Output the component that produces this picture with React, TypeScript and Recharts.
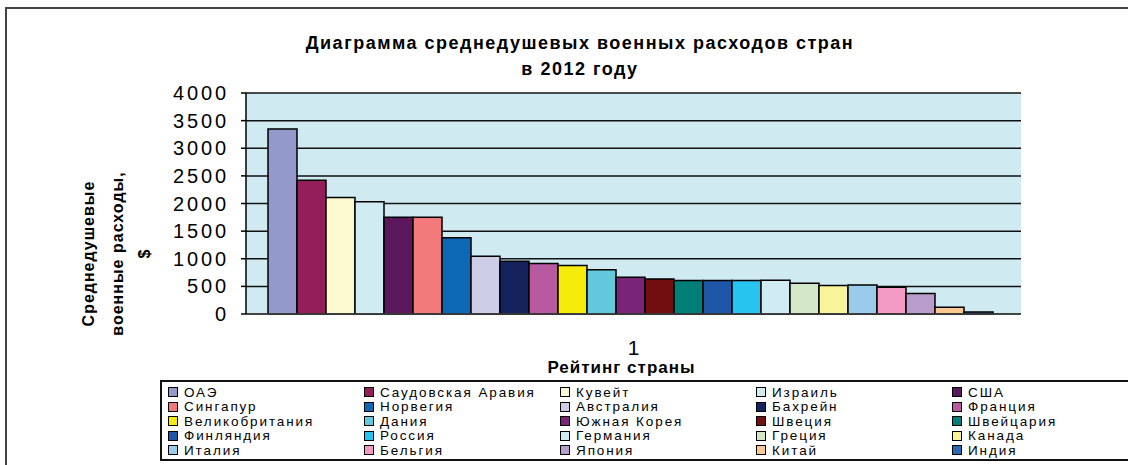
import { BarChart, Bar, XAxis, YAxis, CartesianGrid, Legend } from 'recharts';

const countries = [
  'ОАЭ', 'Саудовская Аравия', 'Кувейт', 'Израиль', 'США',
  'Сингапур', 'Норвегия', 'Австралия', 'Бахрейн', 'Франция',
  'Великобритания', 'Дания', 'Южная Корея', 'Швеция', 'Швейцария',
  'Финляндия', 'Россия', 'Германия', 'Греция', 'Канада',
  'Италия', 'Бельгия', 'Япония', 'Китай', 'Индия',
];

const spending = [
  3350, 2420, 2110, 2030, 1750,
  1750, 1380, 1045, 955, 915,
  880, 800, 665, 635, 605,
  605, 605, 610, 555, 515,
  525, 485, 370, 120, 35,
];

const colors = [
  '#9499cc', '#941e5a', '#fcf8cf', '#d0ecf2', '#5c185c',
  '#f27a7a', '#0c68b4', '#cdcde8', '#14225e', '#b85aa0',
  '#f6ec0a', '#62c8dc', '#7a2478', '#720e10', '#007e78',
  '#1e56a8', '#28c4f0', '#d0ecf2', '#d2e8c6', '#f8f49a',
  '#9acbeb', '#f29ac4', '#b89ccc', '#fac890', '#2a6ab4',
];

const yTicks = [0, 500, 1000, 1500, 2000, 2500, 3000, 3500, 4000];

const font = "'Liberation Sans', Arial, sans-serif";

const row: Record<string, string | number> = { name: '1' };
countries.forEach((c, i) => {
  row[c] = spending[i];
});
const data = [row];

const LegendBox = () => (
  <div
    style={{
      boxSizing: 'border-box',
      width: '100%',
      height: '100%',
      border: '2px solid #111',
      background: 'white',
      padding: '3px 0 0 6px',
      display: 'grid',
      gridTemplateColumns: 'repeat(5, 196px)',
      gridAutoRows: '14.5px',
      fontFamily: font,
      fontSize: 13.5,
      letterSpacing: 1.9,
      color: '#000',
    }}
  >
    {countries.map((c, i) => (
      <div key={c} style={{ display: 'flex', alignItems: 'center', whiteSpace: 'nowrap' }}>
        <span
          style={{
            display: 'inline-block',
            width: 8,
            height: 8,
            background: colors[i],
            border: '1.5px solid #000',
            marginRight: 6,
          }}
        />
        {c}
      </div>
    ))}
  </div>
);

const YTitle = (props: any) => {
  const { viewBox } = props;
  const cy = viewBox.y + viewBox.height / 2 + 50;
  const lines = ['Среднедушевые', 'военные расходы,', '$'];
  const xs = [94, 123, 150];
  return (
    <g>
      {lines.map((l, i) => (
        <text
          key={l}
          x={xs[i]}
          y={cy}
          transform={`rotate(-90 ${xs[i]} ${cy})`}
          textAnchor="middle"
          fontFamily={font}
          fontSize={16}
          fontWeight="bold"
          letterSpacing={1}
          fill="#000"
        >
          {l}
        </text>
      ))}
    </g>
  );
};

const XTitle = (props: any) => {
  const { viewBox } = props;
  const cx = viewBox.x + viewBox.width / 2 - 12;
  return (
    <text
      x={cx}
      y={373}
      textAnchor="middle"
      fontFamily={font}
      fontSize={17}
      fontWeight="bold"
      letterSpacing={1}
      fill="#000"
    >
      Рейтинг страны
    </text>
  );
};

export default function App() {
  return (
    <div
      style={{
        position: 'absolute',
        left: 0,
        top: 0,
        width: 1128,
        height: 465,
        overflow: 'hidden',
        background: 'white',
      }}
    >
      {/* outer frame, runs off the right and bottom edges */}
      <div
        style={{
          position: 'absolute',
          left: 5,
          top: 7,
          width: 1200,
          height: 600,
          borderTop: '2px solid #444',
          borderLeft: '2px solid #444',
        }}
      />
      <div
        style={{
          position: 'absolute',
          left: 0,
          width: 1160,
          top: 30,
          textAlign: 'center',
          fontFamily: font,
          fontWeight: 'bold',
          fontSize: 18,
          letterSpacing: 1.5,
          lineHeight: '26px',
          color: '#000',
        }}
      >
        Диаграмма среднедушевых военных расходов стран
        <br />в 2012 году
      </div>
      <div style={{ position: 'absolute', left: 0, top: 0 }}>
        <BarChart
          width={1128}
          height={465}
          data={data}
          margin={{ top: 93, right: 107, bottom: 111, left: 0 }}
          barGap={0}
          barCategoryGap={22}
        >
          <CartesianGrid vertical={false} stroke="#111" strokeWidth={1.5} fill="#cfebf1" />
          <XAxis
            dataKey="name"
            height={40}
            tickLine={false}
            tickSize={6}
            tickMargin={20}
            axisLine={{ stroke: '#444', strokeWidth: 1.5 }}
            tick={{ fontFamily: font, fontSize: 21, fill: '#000' }}
            label={<XTitle />}
          />
          <YAxis
            width={246}
            domain={[0, 4000]}
            ticks={yTicks}
            interval={0}
            tickSize={5}
            tickMargin={12}
            axisLine={{ stroke: '#000', strokeWidth: 1.5 }}
            tickLine={{ stroke: '#000', strokeWidth: 1.5 }}
            tick={{ fontFamily: font, fontSize: 20, fill: '#000', letterSpacing: 2.9 }}
            label={<YTitle />}
          />
          <YAxis
            yAxisId="frame"
            orientation="right"
            width={0}
            tick={false}
            tickLine={false}
            axisLine={{ stroke: '#888', strokeWidth: 2 }}
          />
          <Legend
            layout="horizontal"
            verticalAlign="middle"
            align="center"
            content={<LegendBox />}
            wrapperStyle={{ left: 160, top: 380, width: 1000, height: 81 }}
          />
          {countries.map((c, i) => (
            <Bar
              key={c}
              dataKey={c}
              fill={colors[i]}
              stroke="#000"
              strokeWidth={1.5}
              isAnimationActive={false}
            />
          ))}
        </BarChart>
      </div>
    </div>
  );
}
